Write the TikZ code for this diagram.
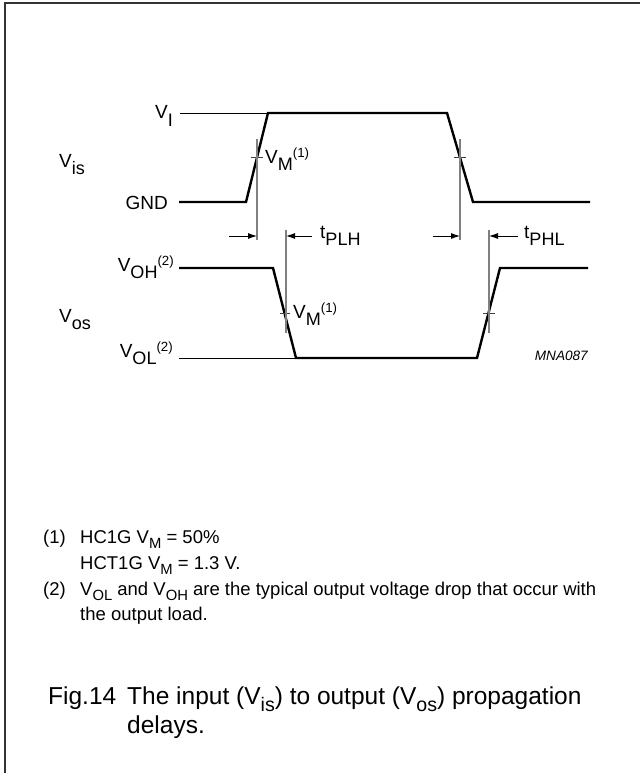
\documentclass[tikz,border=0pt]{standalone}
\usepackage{fontspec}
\usepackage{graphicx}
\setmainfont{Liberation Sans}
\usetikzlibrary{arrows.meta}
\newcommand{\lsub}[1]{\raisebox{-0.4em}{\scalebox{0.95}{#1}}}
\newcommand{\lsup}[1]{\raisebox{0.3em}{\scalebox{0.7}{#1}}}
\newcommand{\nsub}[1]{\raisebox{-0.3em}{\scalebox{0.8}{#1}}}
\begin{document}
\begin{tikzpicture}[x=1pt,y=-1pt,>={Latex[length=9pt,width=6pt]},
		wave/.style={line width=2.4pt, line join=miter},
		level/.style={line width=0.9pt},
		guide/.style={line width=1.1pt, black!50},
		tick/.style={line width=0.9pt, black!75},
		delay/.style={->, line width=0.9pt},
		lbl/.style={font=\fontsize{19}{22}\selectfont, inner sep=0pt},
		note/.style={font=\fontsize{18.5}{22}\selectfont, inner sep=0pt, anchor=base west},
		captext/.style={font=\fontsize{24.5}{29}\selectfont, inner sep=0pt, anchor=base west}]
	\useasboundingbox (0,0) rectangle (640,773);
	\draw[line width=2pt, black!80] (5,773) -- (5,3) -- (640,3);
	
	% input waveform
	\begin{scope}
		\coordinate (i0) at (179,202);
		\coordinate (i1) at (246,202);
		\coordinate (i2) at (268,113);
		\coordinate (i3) at (447,113);
		\coordinate (i4) at (473,202);
		\coordinate (i5) at (590,202);
		\coordinate (vil) at (180,113);
		\draw[level] (vil) -- (i2);
		\draw[wave] (i0) -- (i1) -- (i2) -- (i3) -- (i4) -- (i5);
		\coordinate (mA) at (257,157);
		\coordinate (mB) at (460,157);
		\draw[tick] ([xshift=-6pt]mA) -- ([xshift=6pt]mA);
		\draw[tick] ([xshift=-6pt]mB) -- ([xshift=6pt]mB);
		\node[lbl, anchor=base east] (vi) at (173,119) {V\lsub{I}};
		\node[lbl, anchor=base east] (gnd) at (168,209) {GND};
		\node[lbl, anchor=base west] (vis) at (59,167) {V\lsub{is}};
		\node[lbl, anchor=base west] (vmA) at (265,163) {V\lsub{M}\lsup{(1)}};
	\end{scope}
	
	% output waveform
	\begin{scope}
		\coordinate (o0) at (179,268);
		\coordinate (o1) at (273,268);
		\coordinate (o2) at (296,358);
		\coordinate (o3) at (477,358);
		\coordinate (o4) at (500,268);
		\coordinate (o5) at (588,268);
		\coordinate (vol0) at (179,358);
		\draw[level] (vol0) -- (o2);
		\draw[wave] (o0) -- (o1) -- (o2) -- (o3) -- (o4) -- (o5);
		\coordinate (mC) at (285,313);
		\coordinate (mD) at (489,313);
		\draw[tick] ([xshift=-5pt]mC) -- ([xshift=5pt]mC);
		\draw[tick] ([xshift=-6pt]mD) -- ([xshift=6pt]mD);
		\node[lbl, anchor=base east] (voh) at (174,271) {V\lsub{OH}\lsup{(2)}};
		\node[lbl, anchor=base west] (vos) at (59,322) {V\lsub{os}};
		\node[lbl, anchor=base east] (vol) at (173,357) {V\lsub{OL}\lsup{(2)}};
		\node[lbl, anchor=base west] (vmC) at (293,318) {V\lsub{M}\lsup{(1)}};
		\node[font=\fontsize{13.6}{16}\selectfont\itshape, inner sep=0pt, anchor=base east] (code) at (588,360) {MNA087};
	\end{scope}
	
	% delay markers
	\coordinate (gA) at (257,139);
	\coordinate (gB) at (460,139);
	\coordinate (gC) at (286,230);
	\coordinate (gD) at (489,230);
	\draw[guide] (gA) -- ++(0,101);
	\draw[guide] (gB) -- ++(0,101);
	\draw[guide] (gC) -- ++(0,103);
	\draw[guide] (gD) -- ++(0,103);
	\coordinate (aA) at (229,236);
	\coordinate (aC) at (312,236);
	\coordinate (aB) at (433,236);
	\coordinate (aD) at (518,236);
	\draw[delay] (aA) -- (aA -| gA);
	\draw[delay] (aC) -- (aC -| gC);
	\draw[delay] (aB) -- (aB -| gB);
	\draw[delay] (aD) -- (aD -| gD);
	\node[lbl, anchor=base west] (tplh) at (320,238) {t\lsub{PLH}};
	\node[lbl, anchor=base west] (tphl) at (524,238) {t\lsub{PHL}};
	
	% notes
	\node[note] (n1) at (43,543) {(1)};
	\node[note] (n1a) at (80,543) {HC1G V\nsub{M} = 50\%};
	\node[note] (n1b) at (80,569) {HCT1G V\nsub{M} = 1.3 V.};
	\node[note] (n2) at (43,595) {(2)};
	\node[note] (n2a) at (80,595) {V\nsub{OL} and V\nsub{OH} are the typical output voltage drop that occur with};
	\node[note] (n2b) at (80,620) {the output load.};
	
	% caption
	\node[captext] (fig) at (48,704) {Fig.14};
	\node[captext] (capA) at (127,704) {The input (V\nsub{is}) to output (V\nsub{os}) propagation};
	\node[captext] (capB) at (127,733) {delays.};
\end{tikzpicture}
\end{document}
